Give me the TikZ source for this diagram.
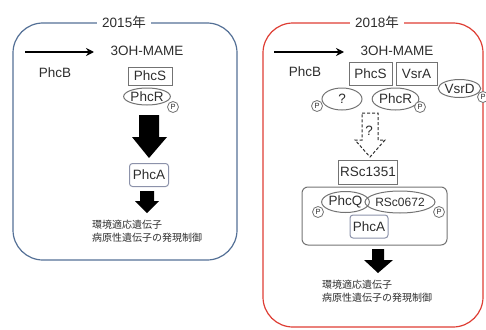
\documentclass[tikz,border=0pt]{standalone}
\usepackage{fontspec}
\setmainfont{Liberation Sans}
\newfontfamily\jp{Noto Sans CJK JP}
\usetikzlibrary{shapes.geometric,arrows.meta}
\definecolor{frameblue}{RGB}{84,112,150}
\definecolor{framered}{RGB}{222,62,52}
\definecolor{ink}{RGB}{45,45,45}
\definecolor{edge}{RGB}{115,115,115}
\definecolor{pabox}{RGB}{140,146,170}
\begin{document}
\begin{tikzpicture}[x=1pt,y=-1pt,
  lbl/.style={font=\fontsize{13.5}{15}\selectfont, text=ink, inner sep=0},
  title/.style={font=\fontsize{13.5}{15}\selectfont, text=ink, fill=white, inner xsep=5pt, inner ysep=1pt},
  boxn/.style={draw=edge, line width=1pt, font=\fontsize{13.5}{15}\selectfont, text=ink, inner sep=0},
  ell/.style={ellipse, draw=edge, line width=1pt, font=\fontsize{13.5}{15}\selectfont, text=ink, inner sep=0},
  pc/.style={circle, draw=edge, line width=0.8pt, fill=white, inner sep=0, minimum size=11pt, font=\fontsize{7.5}{7.5}\selectfont, text=ink},
  thinarrow/.style={line width=1.4pt, -{Stealth[length=8pt,width=8pt]}},
  blockarrow/.style={fill=black},
  jptext/.style={font=\jp\fontsize{10}{13}\selectfont, text=ink, align=left, anchor=north west, inner sep=0},
]
\useasboundingbox (0,0) rectangle (486,329);

% ---------- 2015 ----------
\draw[frameblue, line width=1.2pt, rounded corners=30pt] (13,23) rectangle (237,260);
\node[title] (t15) at (124,22) {2015{\jp 年}};

\coordinate (a1s) at (25,52);
\coordinate (a1e) at (94,52);
\draw[thinarrow] (a1s) -- (a1e);
\node[lbl] (mame1) at (147,51) {3OH-MAME};
\node[lbl] (phcb1) at (55,73) {PhcB};
\node[boxn, minimum width=44pt, minimum height=18pt] (phcs1) at (150,76) {PhcS};
\node[ell, minimum width=40pt, minimum height=17pt] (phcr1) at (147,96.5) {PhcR};
\node[pc] (p1) at (173,107) {P};

\fill[blockarrow] (139,115) -- (159,115) -- (159,137) -- (167,137) -- (149,158) -- (132,137) -- (139,137) -- cycle;

\node[boxn, draw=pabox, rounded corners=3pt, minimum width=39pt, minimum height=23pt] (phca1) at (149,175) {PhcA};

\fill[blockarrow] (140,191) -- (154,191) -- (154,201) -- (159,201) -- (147,213) -- (135,201) -- (140,201) -- cycle;

\node[jptext] (jp1) at (92,220) {環境適応遺伝子\\病原性遺伝子の発現制御};

% ---------- 2018 ----------
\draw[framered, line width=1.2pt, rounded corners=30pt] (263,23) rectangle (483,327);
\node[title] (t18) at (377,22) {2018{\jp 年}};

\coordinate (a2s) at (274,52);
\coordinate (a2e) at (344,52);
\draw[thinarrow] (a2s) -- (a2e);
\node[lbl] (mame2) at (397,51) {3OH-MAME};
\node[lbl] (phcb2) at (305,72) {PhcB};
\node[boxn, minimum width=43pt, minimum height=23pt] (phcs2) at (370.5,73.5) {PhcS};
\node[boxn, minimum width=41pt, minimum height=23pt] (vsra2) at (416.5,73.5) {VsrA};
\node[ell, minimum width=41pt, minimum height=18pt] (vsrd2) at (459.5,88.5) {VsrD};
\node[pc] (p2) at (483,97) {P};
\node[ell, minimum width=40pt, minimum height=22pt] (q2) at (342,99) {?};
\node[pc] (p3) at (317,106) {P};
\node[ell, minimum width=41pt, minimum height=22pt] (phcr2) at (395.5,99) {PhcR};
\node[pc] (p4) at (420,107) {P};

\draw[ink, line width=1pt, dashed, dash pattern=on 3pt off 2pt, line join=miter]
  (362,113) -- (378,113) -- (378,140) -- (385,140) -- (370,157) -- (355,140) -- (362,140) -- cycle;
\node[lbl] (qm) at (369,131) {?};

\node[boxn, minimum width=59pt, minimum height=24pt] (rsc1351) at (368,172) {RSc1351};
\draw[edge, line width=1pt, rounded corners=6pt] (302,187) rectangle (447,245);
\node[ell, minimum width=39pt, minimum height=21pt] (phcq) at (345.5,202) {PhcQ};
\node[pc] (p5) at (318,212) {P};
\node[ell, minimum width=70pt, minimum height=22pt, font=\fontsize{12}{14}\selectfont] (rsc0672) at (400,202) {RSc0672};
\node[pc] (p6) at (439,212) {P};
\node[boxn, draw=pabox, rounded corners=3pt, minimum width=38pt, minimum height=23pt] (phca2) at (369,226.5) {PhcA};

\fill[blockarrow] (372,249) -- (384,249) -- (384,260) -- (393,260) -- (378,273) -- (364,260) -- (372,260) -- cycle;

\node[jptext] (jp2) at (322,280) {環境適応遺伝子\\病原性遺伝子の発現制御};
\end{tikzpicture}
\end{document}
